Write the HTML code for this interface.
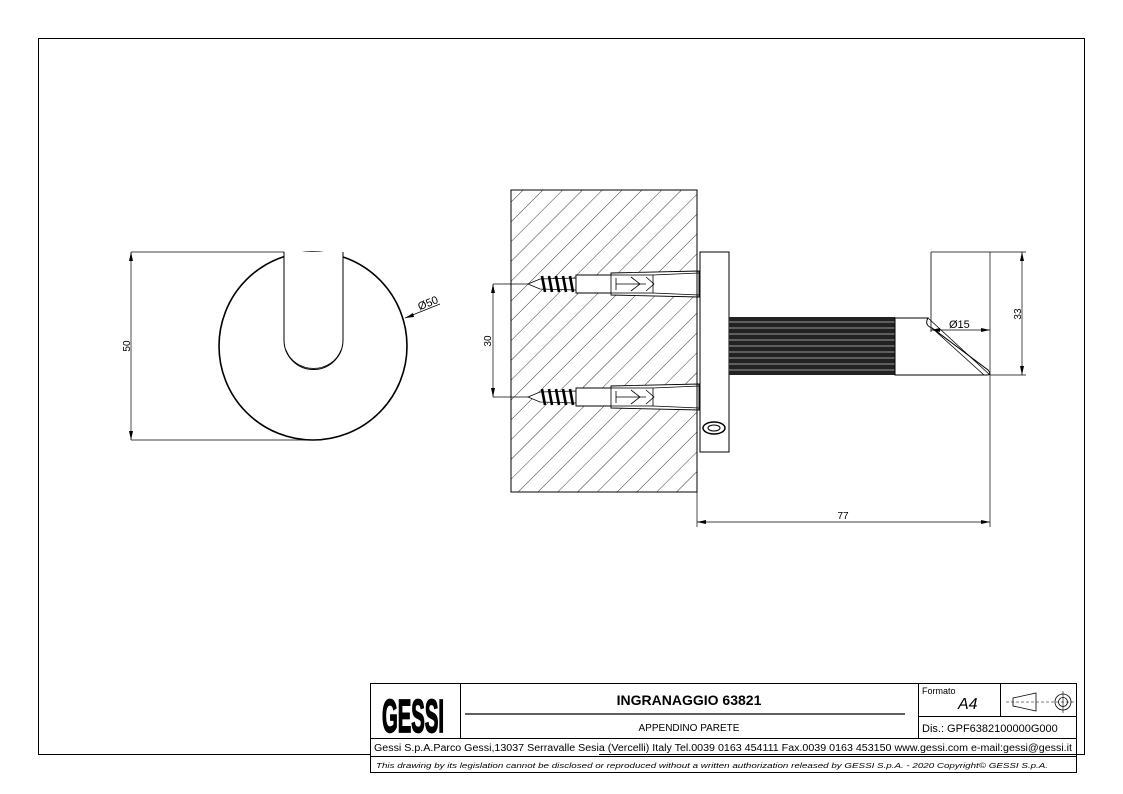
<!DOCTYPE html>
<html><head><meta charset="utf-8"><style>
html,body{margin:0;padding:0;background:#fff;}
svg{display:block;font-family:"Liberation Sans",sans-serif;}
</style></head><body>
<svg width="1123" height="794" viewBox="0 0 1123 794" xmlns="http://www.w3.org/2000/svg">
<defs>
<pattern id="h" patternUnits="userSpaceOnUse" width="14" height="14" patternTransform="rotate(45)">
<line x1="0" y1="0" x2="0" y2="14" stroke="#222" stroke-width="0.9"/>
</pattern>
<g id="screw">
<path d="M14 0 L26 -5 L62 -6 L62 6 L26 5 Z" fill="#fff" stroke="#000" stroke-width="0.8"/>
<g stroke="#000" stroke-width="2.6">
<line x1="28" y1="-8" x2="31" y2="8"/><line x1="35" y1="-8" x2="38" y2="8"/><line x1="42" y1="-8" x2="45" y2="8"/><line x1="49" y1="-8" x2="52" y2="8"/><line x1="56" y1="-8" x2="59" y2="8"/>
</g>
<path d="M62 -9 L97 -9 L97 -11 L185 -13 L185 13 L97 11 L97 9 L62 9 Z" fill="#fff" stroke="#000" stroke-width="0.9"/>
<rect x="97" y="-9" width="42" height="18" fill="none" stroke="#000" stroke-width="0.8"/>
<path d="M102 -6 V6 M102 0 H132 M117 -7 L126 0 L117 7 M132 -7 L140 0 L132 7" fill="none" stroke="#000" stroke-width="0.8"/>
<line x1="139" y1="-9" x2="185" y2="-11" stroke="#000" stroke-width="0.7"/>
<line x1="139" y1="9" x2="185" y2="11" stroke="#000" stroke-width="0.7"/>
</g>
</defs>
<rect x="38.5" y="38.5" width="1046" height="716" fill="none" stroke="#000" stroke-width="1"/>

<!-- left view -->
<circle cx="313" cy="346" r="94" fill="none" stroke="#000" stroke-width="1.6"/>
<path d="M284 252 V340 A29 29 0 0 0 343 340 V252" fill="#fff" stroke="#000" stroke-width="1"/>
<path d="M286 350 A29 27 0 0 0 341 350" fill="none" stroke="#000" stroke-width="0.8"/>
<line x1="131" y1="252" x2="284" y2="252" stroke="#000" stroke-width="0.7"/>
<line x1="131" y1="440" x2="313" y2="440" stroke="#000" stroke-width="0.7"/>
<line x1="131" y1="252" x2="131" y2="440" stroke="#000" stroke-width="0.7"/>
<path d="M131 252 l-2 9 h4z M131 440 l-2 -9 h4z" fill="#000"/>
<text x="130" y="346" font-size="10" transform="rotate(-90 130 346)" text-anchor="middle">50</text>
<line x1="405" y1="318" x2="440" y2="304" stroke="#000" stroke-width="0.7"/>
<path d="M405 318 l8 -5 l1 4z" fill="#000"/>
<text x="418" y="308" font-size="11" transform="rotate(-22 425 305)">Ø50</text>

<!-- wall -->
<rect x="511" y="190" width="186" height="302" fill="url(#h)" stroke="#000" stroke-width="1"/>
<use href="#screw" x="514" y="284"/>
<use href="#screw" x="514" y="397"/>
<line x1="493" y1="284" x2="528" y2="284" stroke="#000" stroke-width="0.7"/>
<line x1="493" y1="397" x2="528" y2="397" stroke="#000" stroke-width="0.7"/>
<line x1="493" y1="284" x2="493" y2="397" stroke="#000" stroke-width="0.7"/>
<path d="M493 284 l-2 9 h4z M493 397 l-2 -9 h4z" fill="#000"/>
<text x="491" y="341" font-size="10" transform="rotate(-90 491 341)" text-anchor="middle">30</text>
<!-- plate -->
<rect x="700" y="252" width="29" height="200" fill="#fff" stroke="#000" stroke-width="1"/>
<line x1="697" y1="252" x2="697" y2="452" stroke="#000" stroke-width="1"/>
<ellipse cx="714" cy="428" rx="11" ry="6" fill="none" stroke="#000" stroke-width="1.5"/>
<ellipse cx="714" cy="428" rx="6" ry="3" fill="none" stroke="#000" stroke-width="1"/>
<!-- rod -->
<rect x="729" y="317" width="166" height="58" fill="#222"/>
<g stroke="#999" stroke-width="1">
<line x1="729" y1="322" x2="895" y2="322"/><line x1="729" y1="328" x2="895" y2="328"/><line x1="729" y1="334" x2="895" y2="334"/><line x1="729" y1="340" x2="895" y2="340"/><line x1="729" y1="346" x2="895" y2="346"/><line x1="729" y1="352" x2="895" y2="352"/><line x1="729" y1="358" x2="895" y2="358"/><line x1="729" y1="364" x2="895" y2="364"/><line x1="729" y1="370" x2="895" y2="370"/>
</g>
<path d="M895 318 H928 Q924 325 932 328 L988 370 Q992 375 987 375 H895 Z" fill="#fff" stroke="#000" stroke-width="1"/>
<path d="M928 318 L990 375 M932 328 L984 375" stroke="#000" stroke-width="0.8" fill="none"/>
<line x1="931" y1="252" x2="931" y2="332" stroke="#000" stroke-width="0.8"/>
<line x1="931" y1="252" x2="1026" y2="252" stroke="#000" stroke-width="0.7"/>
<line x1="990" y1="252" x2="990" y2="527" stroke="#000" stroke-width="0.7"/>
<line x1="990" y1="375" x2="1026" y2="375" stroke="#000" stroke-width="0.7"/>
<line x1="1022" y1="252" x2="1022" y2="375" stroke="#000" stroke-width="0.7"/>
<path d="M1022 252 l-2 9 h4z M1022 375 l-2 -9 h4z" fill="#000"/>
<text x="1021" y="314" font-size="10" transform="rotate(-90 1021 314)" text-anchor="middle">33</text>
<line x1="931" y1="330" x2="990" y2="330" stroke="#000" stroke-width="0.7"/>
<path d="M931 330 l9 -2 v4z M990 330 l-9 -2 v4z" fill="#000"/>
<text x="949" y="328" font-size="11">Ø15</text>
<line x1="697" y1="452" x2="697" y2="527" stroke="#000" stroke-width="0.7"/>
<line x1="697" y1="522" x2="990" y2="522" stroke="#000" stroke-width="0.7"/>
<path d="M697 522 l9 -2 v4z M990 522 l-9 -2 v4z" fill="#000"/>
<text x="843" y="519" font-size="10" text-anchor="middle">77</text>

<!-- title block -->
<rect x="370" y="683" width="229" height="89" fill="#fff"/>
<g fill="none" stroke="#000" stroke-width="1">
<rect x="370.5" y="683.5" width="706" height="89"/>
<line x1="370" y1="738.5" x2="1077" y2="738.5"/>
<line x1="370" y1="756.5" x2="1077" y2="756.5"/>
<line x1="460.5" y1="683" x2="460.5" y2="738"/>
<line x1="918.5" y1="683" x2="918.5" y2="738"/>
<line x1="1000.5" y1="683" x2="1000.5" y2="716"/>
<line x1="918" y1="716.5" x2="1077" y2="716.5"/>
<line x1="465" y1="714" x2="905" y2="714" stroke-width="1.2"/>
<path d="M1013 698 L1036 693 V711 L1013 706 Z" stroke-width="0.8"/>
<circle cx="1063" cy="702" r="8" stroke-width="0.8"/><circle cx="1063" cy="702" r="4.5" stroke-width="0.8"/>
<line x1="1006" y1="702" x2="1074" y2="702" stroke-width="0.6" stroke-dasharray="3 2"/>
<line x1="1063" y1="691" x2="1063" y2="713" stroke-width="0.6"/>
</g>
<text x="0" y="0" font-size="40" font-weight="bold" text-anchor="middle" transform="translate(413 732) scale(1,1.15)" textLength="62" lengthAdjust="spacingAndGlyphs" stroke="#000" stroke-width="1.5">GESSI</text>
<text x="689" y="705" font-size="14" font-weight="bold" text-anchor="middle">INGRANAGGIO 63821</text>
<text x="689" y="731" font-size="10" text-anchor="middle">APPENDINO PARETE</text>
<text x="922" y="694" font-size="9">Formato</text>
<text x="958" y="709" font-size="16" font-style="italic">A4</text>
<text x="922" y="732" font-size="11">Dis.: GPF6382100000G000</text>
<text x="723" y="751" font-size="10" text-anchor="middle" textLength="698" lengthAdjust="spacingAndGlyphs">Gessi S.p.A.Parco Gessi,13037 Serravalle Sesia (Vercelli) Italy Tel.0039 0163 454111 Fax.0039 0163 453150 www.gessi.com e-mail:gessi@gessi.it</text>
<text x="712" y="768" font-size="7.5" font-style="italic" text-anchor="middle" textLength="672" lengthAdjust="spacingAndGlyphs">This drawing by its legislation cannot be disclosed or reproduced without a written authorization released by GESSI S.p.A. - 2020 Copyright© GESSI S.p.A.</text>
</svg>
</body></html>
